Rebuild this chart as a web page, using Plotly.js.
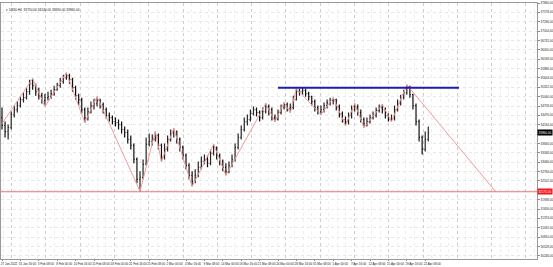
<!DOCTYPE html>
<html><head><meta charset="utf-8">
<script src="https://cdn.plot.ly/plotly-3.0.1.min.js"></script>
<style>html,body{margin:0;padding:0;background:#fff;}#chart{width:553px;height:267px;}</style>
</head><body><div id="chart"></div>
<script>
const symbolTitle = "US30,H4";
const firstOpen = 34410;
const closes = [34170,33990,34110,34500,34650,34770,34950,35010,35190,35430,
35370,35190,35070,34920,35010,35040,35130,35250,35370,35490,
35610,35670,35550,35310,35070,34950,34650,34410,34590,34770,
34830,34920,34800,34650,34470,34410,34290,34260,34200,34050,
33960,33750,33570,33150,32550,32610,33000,33600,33690,33750,
33870,33570,33210,33450,33750,33930,33990,33750,33510,33270,
32970,32670,32490,32670,32910,33090,33150,33030,33330,33510,
33270,33090,32910,32790,32970,33150,33510,33810,34050,34290,
34350,34530,34650,34560,34410,34590,34740,34650,34410,34350,
34560,34710,34800,34680,34710,34950,35190,35190,35220,35130,
35040,34890,34710,34590,34650,34770,34860,34920,34950,34740,
34530,34350,34290,34470,34650,34740,34560,34350,34230,34290,
34410,34470,34620,34710,34650,34470,34350,34380,34650,34830,
35010,35160,35310,35100,34770,34290,33810,33450,33750,33960];
const highs = [34710,34290,34200,34590,34770,34890,35040,35160,35310,35550,
35580,35430,35310,35160,35130,35190,35250,35370,35460,35610,
35700,35760,35730,35610,35370,35130,35010,34710,34710,34890,
34980,35040,34980,34860,34710,34560,34470,34410,34350,34290,
34140,34050,33870,33630,33210,32790,33150,33810,33930,33900,
33990,33930,33630,33630,33870,34050,34080,34020,33810,33570,
33330,33030,32790,32850,33090,33240,33300,33270,33450,33600,
33540,33330,33150,33030,33090,33300,33630,33930,34170,34410,
34500,34650,34740,34710,34620,34710,34830,34800,34710,34500,
34650,34800,34860,34860,34830,35070,35280,35280,35310,35280,
35190,35070,34950,34770,34770,34860,34950,35010,35010,34980,
34800,34590,34440,34560,34770,34830,34800,34650,34410,34410,
34500,34590,34710,34800,34800,34710,34530,34500,34770,34950,
35100,35250,35400,35370,35130,34830,34350,33870,33990,34140];
const lows = [34050,33810,33750,34050,34410,34560,34710,34860,34950,35100,
35250,35070,34950,34830,34770,34920,34980,35070,35220,35310,
35430,35550,35430,35190,34950,34770,34530,34260,34320,34530,
34650,34740,34680,34530,34380,34290,34200,34140,34050,33930,
33810,33630,33450,33030,32430,32190,32550,32970,33540,33570,
33690,33450,33090,33150,33390,33690,33810,33630,33390,33150,
32850,32550,32340,32430,32610,32850,33000,32910,32970,33270,
33150,32970,32790,32670,32730,32910,33090,33450,33750,33990,
34170,34290,34470,34440,34290,34350,34530,34470,34320,34290,
34320,34500,34650,34590,34560,34650,34920,35070,35100,35040,
34920,34770,34590,34500,34500,34560,34680,34770,34800,34620,
34410,34260,34170,34200,34380,34590,34470,34260,34110,34140,
34230,34350,34410,34560,34530,34380,34290,34290,34320,34590,
34770,34950,35100,35010,34650,34170,33690,33300,33390,33690];
const zigzagBars = [0,10,14,21,27,31,45,50,52,56,62,69,73,86,89,92,94,96,104,108,112,115,118,124,127,132,161];
const zigzagPrices = [34230,35580,34740,35760,34260,35040,32190,33990,33090,34080,32340,33600,32670,34830,34290,34860,34560,35280,34500,35010,34170,34830,34110,34800,34290,35400,32175];
const resistanceBars = [90, 149];
const resistancePrice = 35310;
const supportPrice = 32175;
const xTickBars = [0,6,12,18,24,30,36,42,48,54,60,66,72,78,84,90,96,102,108,114,120,126,132,138];
const xTickLabels = ["27 Jan 2022","31 Jan 16:00","3 Feb 08:00","8 Feb 00:00","10 Feb 16:00","15 Feb 08:00","18 Feb 00:00","22 Feb 16:00","25 Feb 08:00","2 Mar 00:00","4 Mar 16:00","9 Mar 08:00","14 Mar 00:00","16 Mar 16:00","21 Mar 08:00","24 Mar 00:00","28 Mar 16:00","31 Mar 08:00","5 Apr 00:00","7 Apr 16:00","12 Apr 08:00","15 Apr 00:00","19 Apr 16:00","22 Apr 08:00"];
// price labels on the right scale (the two hidden under the price boxes are omitted)
const yTickValues = [37860,37578,37296,37014,36732,36450,36168,35886,35604,35322,35040,34758,34476,34194,33630,33348,33066,32784,32502,31938,31656,31374,31092,30810,30528,30246];
const yGridStep = 282;

const bars = closes.map((_, i) => i);
const opens = [firstOpen].concat(closes.slice(0, -1));
const n = closes.length;
const lastClose = closes[n - 1];
const FONT = "Liberation Sans, Arial, sans-serif";
const xRange = [-0.326, 174.45];

const traces = [
  {type:'ohlc', x:bars, open:opens, high:highs, low:lows, close:closes,
   increasing:{line:{color:'#262626', width:1.2}},
   decreasing:{line:{color:'#111111', width:1.2}},
   tickwidth:0.3, hoverinfo:'skip', showlegend:false},
  {type:'scatter', mode:'lines', x:zigzagBars, y:zigzagPrices, xaxis:'x2',
   line:{color:'#f29a9a', width:1}, hoverinfo:'skip', showlegend:false},
  {type:'scatter', mode:'lines', x:resistanceBars, y:[resistancePrice, resistancePrice], xaxis:'x2',
   line:{color:'#1c1cb0', width:2}, hoverinfo:'skip', showlegend:false}
];

const layout = {
  width:553, height:267,
  margin:{l:1, r:16, t:3, b:8, pad:0},
  paper_bgcolor:'#ffffff', plot_bgcolor:'#ffffff',
  font:{family:FONT, size:3, color:'#222'},
  showlegend:false,
  xaxis:{range:xRange, rangeslider:{visible:false}, showgrid:false, zeroline:false,
    tickmode:'array', tickvals:xTickBars, ticktext:xTickLabels, ticks:'outside', ticklen:1, tickcolor:'#888',
    tickangle:0, automargin:false,
    tickfont:{size:3, family:FONT, color:'#222'}, ticklabelshift:7,
    showline:true, mirror:true, linecolor:'#999', linewidth:1, fixedrange:true},
  xaxis2:{range:xRange, overlaying:'x', side:'bottom', showticklabels:false, ticks:'',
    showgrid:true, tick0:3.16, dtick:11.18, gridcolor:'#cdcdcd', griddash:'dot', gridwidth:1,
    minor:{tick0:3.16, dtick:2.795, showgrid:true, gridcolor:'#eeeeee', griddash:'dot', gridwidth:1},
    zeroline:false, showline:false, fixedrange:true},
  yaxis:{range:[30150, 37860], side:'right', tickmode:'array', tickvals:yTickValues,
    ticktext:yTickValues.map(v => v.toFixed(2)), ticks:'outside', ticklen:2, tickcolor:'#888',
    tickfont:{size:3, family:FONT, color:'#222'}, showgrid:true, gridcolor:'#e8e8e8', griddash:'dot',
    minor:{tick0:30246, dtick:yGridStep, showgrid:true, gridcolor:'#e8e8e8', griddash:'dot', ticks:''},
    zeroline:false, showline:true, mirror:true, linecolor:'#999', linewidth:1, automargin:false, fixedrange:true},
  shapes:[
    {type:'line', xref:'paper', x0:0, x1:1, yref:'y', y0:supportPrice, y1:supportPrice,
     line:{color:'#f07070', width:1}}
  ],
  annotations:[
    {xref:'paper', yref:'paper', x:0.006, y:0.99, xanchor:'left', yanchor:'top', showarrow:false,
     text:'\u25BE ' + symbolTitle + '  ' + opens[n-1].toFixed(2) + ' ' + highs[n-1].toFixed(2) + ' ' + lows[n-1].toFixed(2) + ' ' + lastClose.toFixed(2),
     font:{size:3.2, family:FONT, color:'#222'}},
    {xref:'paper', yref:'y', x:1, y:lastClose, xanchor:'left', yanchor:'middle', showarrow:false,
     text:lastClose.toFixed(2), bgcolor:'#000000', borderpad:0.6,
     font:{size:3, family:FONT, color:'#ffffff'}},
    {xref:'paper', yref:'y', x:1, y:supportPrice, xanchor:'left', yanchor:'middle', showarrow:false,
     text:supportPrice.toFixed(2), bgcolor:'#f01818', borderpad:0.6,
     font:{size:3, family:FONT, color:'#ffffff'}}
  ]
};

Plotly.newPlot('chart', traces, layout, {staticPlot:true, displayModeBar:false});
</script>
</body></html>
